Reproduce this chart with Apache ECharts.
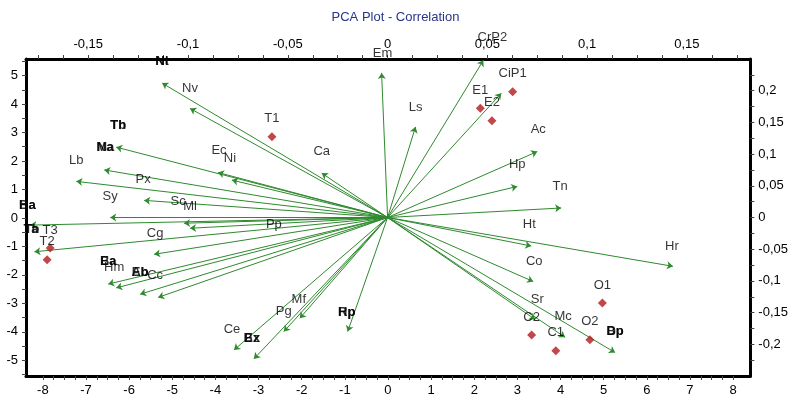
<!DOCTYPE html>
<html>
<head>
<meta charset="utf-8">
<script src="https://cdn.jsdelivr.net/npm/echarts@6/dist/echarts.min.js"></script>
<style>
  html, body { margin: 0; padding: 0; background: #fff; }
  #chart { width: 791px; height: 403px; }
</style>
</head>
<body>
<div id="chart"></div>
<script>
// tick labels
const xTicks = [-8, -7, -6, -5, -4, -3, -2, -1, 0, 1, 2, 3, 4, 5, 6, 7, 8];
const yTicks = [-5, -4, -3, -2, -1, 0, 1, 2, 3, 4, 5];
const topTicks = [-0.15, -0.1, -0.05, 0, 0.05, 0.1, 0.15];
const rightTicks = [-0.2, -0.15, -0.1, -0.05, 0, 0.05, 0.1, 0.15, 0.2];

// scores (bottom / left axes)
const scoreNames = ["T1", "E1", "CiP1", "E2", "T3", "T2", "O1", "O2", "C2", "C1"];
const scoreX = [-2.69, 2.14, 2.89, 2.41, -7.83, -7.9, 4.97, 4.68, 3.33, 3.89];
const scoreY = [2.85, 3.85, 4.43, 3.41, -1.06, -1.47, -2.99, -4.28, -4.11, -4.66];

// loadings (top / right axes) - arrow tips
const loadX = [-0.003, 0.014, 0.048, 0.057, 0.075, 0.065, 0.087, 0.072, 0.143, 0.073,
  0.074, 0.089, 0.114, -0.02, -0.044, -0.052, -0.067, -0.077, -0.033, -0.113,
  -0.099, -0.136, -0.142, -0.156, -0.122, -0.139, -0.102, -0.099, -0.179, -0.177,
  -0.117, -0.085, -0.078, -0.14, -0.136, -0.124, -0.115];
const loadY = [0.228, 0.143, 0.248, 0.196, 0.104, 0.049, 0.015, -0.045, -0.077, -0.101,
  -0.161, -0.189, -0.213, -0.18, -0.159, -0.18, -0.223, -0.209, 0.07, 0.212,
  0.172, 0.111, 0.075, 0.057, 0.027, 0.0, -0.009, -0.017, -0.012, -0.054,
  -0.058, 0.071, 0.059, -0.105, -0.111, -0.121, -0.126];

// variable labels (top / right axes)
const varNames = ["Em", "CrP2", "Ls", "Ac", "Hp", "Tn", "Ht", "Hr", "Co", "Sr", "Mc",
  "Ca", "Ec", "Ni", "Nv", "Lb", "Px", "Sy", "Sc", "Ml", "Pp", "Cg", "Hm", "Cc",
  "Mf", "Pg", "Ce"];
const varX = [-0.0025, 0.0525, 0.014, 0.0755, 0.065, 0.0865, 0.071, 0.1425, 0.0735, 0.075, 0.088,
  -0.033, -0.0845, -0.079, -0.099, -0.156, -0.1225, -0.139, -0.105, -0.099, -0.057, -0.1165, -0.137, -0.1165,
  -0.0445, -0.052, -0.078];
const varY = [0.2595, 0.2847, 0.1743, 0.1396, 0.0844, 0.0497, -0.0103, -0.045, -0.0686, -0.1286, -0.1554,
  0.1049, 0.1065, 0.0938, 0.2043, 0.0907, 0.0607, 0.0339, 0.026, 0.0181, -0.0103, -0.0245, -0.0781, -0.0907,
  -0.1285, -0.1475, -0.1759];

// overlapping labels (drawn on top of each other, bold)
const stackNamesA = ["Nl", "Tb", "Na", "Ba", "Ta", "Ba", "Ab", "Bx", "Rp", "Dp"];
const stackNamesB = ["Nt", "Th", "Ma", "Ha", "Tb", "Ea", "Eb", "Ez", "Hp", "Bp"];
const stackX = [-0.113, -0.135, -0.1415, -0.1805, -0.1785, -0.14, -0.124, -0.068, -0.0205, 0.114];
const stackY = [0.2468, 0.1459, 0.1112, 0.0197, -0.0181, -0.0686, -0.086, -0.1901, -0.149, -0.179];

const FONT = "Liberation Sans, Arial, sans-serif";
const fmt = (v) => String(v).replace(".", ",");

function steps(a, b, s) {
  const out = [];
  for (let v = a; v <= b + 1e-9; v += s) out.push(Math.round(v * 10000) / 10000);
  return out;
}

function axis(pos, min, max, labels, ticks) {
  return {
    type: "value",
    position: pos,
    min: min,
    max: max,
    axisLine: { show: true, onZero: false, lineStyle: { color: "#000", width: 3 } },
    axisTick: { show: true, length: 4, customValues: ticks, lineStyle: { color: "#444" } },
    axisLabel: {
      customValues: labels,
      formatter: fmt,
      color: "#000",
      fontSize: 13,
      fontFamily: FONT,
      margin: 8,
    },
    splitLine: { show: false },
  };
}

const chart = echarts.init(document.getElementById("chart"));

const labelStyle = {
  show: true,
  position: "inside",
  color: "#000",
  fontSize: 13,
  fontFamily: FONT,
};

chart.setOption({
  backgroundColor: "#fff",
  animation: false,
  title: {
    text: "PCA Plot - Correlation",
    left: "center",
    top: 6,
    textStyle: { color: "#27358c", fontSize: 13, fontWeight: "normal", fontFamily: FONT },
  },
  grid: { left: 26, right: 39, top: 59, bottom: 27 },
  xAxis: [
    axis("bottom", -8.39, 8.4, xTicks, steps(-8, 8, 0.25)),
    axis("top", -0.1812, 0.1818, topTicks, steps(-0.175, 0.175, 0.0125)),
  ],
  yAxis: [
    axis("left", -5.55, 5.58, yTicks, steps(-5.5, 5.5, 0.5)),
    axis("right", -0.25, 0.25, rightTicks, steps(-0.225, 0.225, 0.025)),
  ],
  series: [
    {
      type: "lines",
      coordinateSystem: "cartesian2d",
      xAxisIndex: 1,
      yAxisIndex: 1,
      symbol: ["none", "arrow"],
      symbolSize: [0, 6],
      silent: true,
      lineStyle: { color: "#2f8a2f", width: 1, opacity: 1, curveness: 0 },
      data: loadX.map((x, i) => ({ coords: [[0, 0], [x, loadY[i]]] })),
      z: 2,
    },
    {
      type: "scatter",
      xAxisIndex: 0,
      yAxisIndex: 0,
      symbol: "diamond",
      symbolSize: 9,
      itemStyle: { color: "#b3191c" },
      label: Object.assign({}, labelStyle, { position: "top", distance: 7, formatter: (p) => p.value[2] }),
      data: scoreX.map((x, i) => [x, scoreY[i], scoreNames[i]]),
      z: 3,
    },
    {
      type: "scatter",
      xAxisIndex: 1,
      yAxisIndex: 1,
      symbolSize: 1,
      clip: false,
      itemStyle: { color: "transparent" },
      label: Object.assign({}, labelStyle, { formatter: (p) => p.value[2] }),
      data: varX.map((x, i) => [x, varY[i], varNames[i]]),
      z: 4,
    },
    {
      type: "scatter",
      xAxisIndex: 1,
      yAxisIndex: 1,
      symbolSize: 1,
      clip: false,
      itemStyle: { color: "transparent" },
      label: Object.assign({}, labelStyle, { fontWeight: "bold", formatter: (p) => p.value[2] }),
      data: stackX.map((x, i) => [x, stackY[i], stackNamesA[i]])
        .concat(stackX.map((x, i) => [x, stackY[i], stackNamesB[i]])),
      z: 4,
    },
  ],
});
</script>
</body>
</html>
